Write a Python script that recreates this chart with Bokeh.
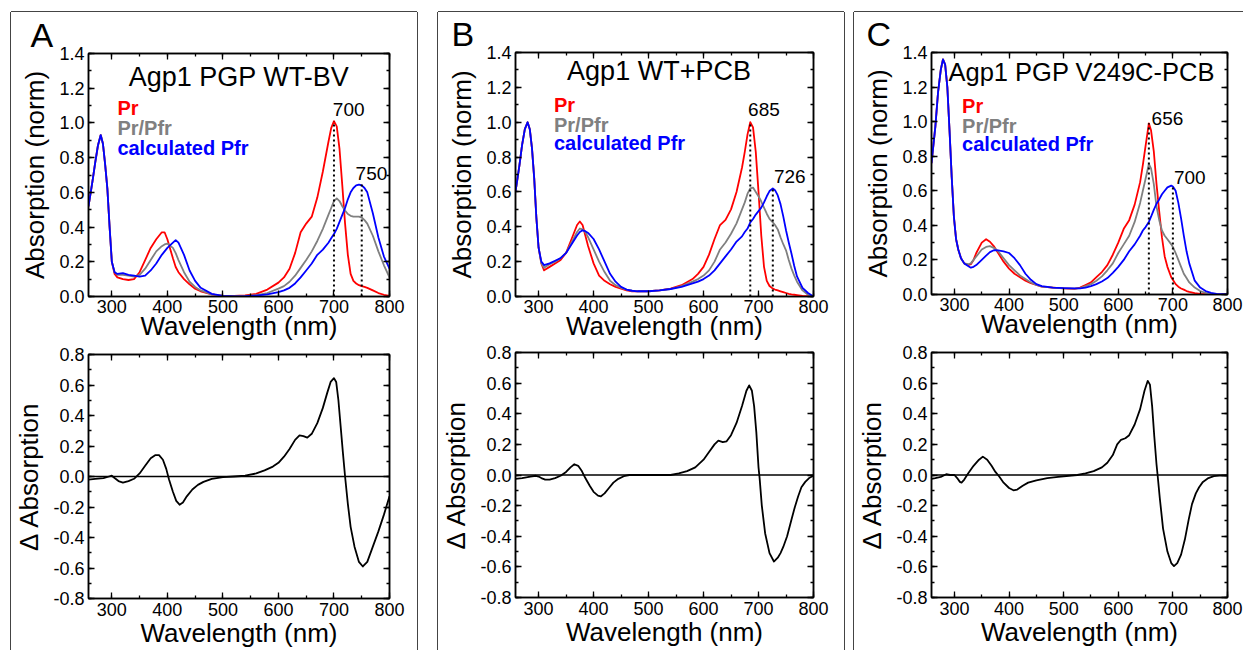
from bokeh.plotting import figure
from bokeh.models import (LinearAxis, FixedTicker, PrintfTickFormatter, Range1d,
                          Label, Span, Spacer, ColumnDataSource)
from bokeh.layouts import row, column
from bokeh.embed import file_html
from bokeh.resources import INLINE

# ----------------------------------------------------------------- data
X_TICKS = [300, 400, 500, 600, 700, 800]
X_MINOR = [300, 350, 400, 450, 500, 550, 600, 650, 700, 750, 800]
TOP_Y_TICKS = [0.0, 0.2, 0.4, 0.6, 0.8, 1.0, 1.2, 1.4]
TOP_Y_MINOR = [0.0, 0.1, 0.2, 0.3, 0.4, 0.5, 0.6, 0.7, 0.8, 0.9, 1.0, 1.1, 1.2, 1.3, 1.4]
DIFF_Y_TICKS = [-0.8, -0.6, -0.4, -0.2, 0.0, 0.2, 0.4, 0.6, 0.8]
DIFF_Y_MINOR = [-0.8, -0.7, -0.6, -0.5, -0.4, -0.3, -0.2, -0.1, 0.0,
                0.1, 0.2, 0.3, 0.4, 0.5, 0.6, 0.7, 0.8]

# Panel A : Agp1 PGP WT-BV
A_wl = [258, 265, 270, 275, 280, 284, 288, 292, 296, 300, 305, 310, 320, 330, 340,
        350, 360, 370, 380, 390, 395, 400, 410, 415, 420, 430, 440, 450, 460, 480,
        500, 520, 540, 560, 580, 600, 610, 620, 630, 640, 650, 660, 670, 680, 690,
        695, 700, 705, 710, 715, 720, 725, 730, 735, 740, 745, 750, 755, 760, 770,
        780, 790, 800]
A_pr = [0.52, 0.66, 0.77, 0.87, 0.93, 0.88, 0.76, 0.62, 0.40, 0.20, 0.13, 0.11, 0.10, 0.095, 0.10,
        0.14, 0.21, 0.28, 0.33, 0.37, 0.37, 0.33, 0.22, 0.17, 0.14, 0.10, 0.07, 0.045, 0.03, 0.012,
        0.004, 0.003, 0.006, 0.015, 0.04, 0.08, 0.11, 0.16, 0.25, 0.37, 0.42, 0.46, 0.57, 0.72, 0.89,
        0.97, 1.01, 0.98, 0.85, 0.64, 0.42, 0.24, 0.13, 0.09, 0.075, 0.065, 0.06, 0.055, 0.05, 0.035,
        0.02, 0.01, 0.003]
A_mix = [0.52, 0.66, 0.77, 0.87, 0.93, 0.88, 0.76, 0.62, 0.40, 0.20, 0.14, 0.125, 0.125, 0.12, 0.115,
         0.125, 0.16, 0.21, 0.26, 0.29, 0.30, 0.305, 0.28, 0.25, 0.21, 0.14, 0.085, 0.055, 0.035, 0.012,
         0.003, 0.002, 0.003, 0.008, 0.02, 0.045, 0.06, 0.085, 0.12, 0.165, 0.21, 0.26, 0.32, 0.39, 0.47,
         0.51, 0.55, 0.565, 0.55, 0.52, 0.495, 0.475, 0.465, 0.46, 0.46, 0.46, 0.455, 0.44, 0.42, 0.35,
         0.26, 0.18, 0.11]
A_pfr = [0.52, 0.66, 0.77, 0.87, 0.93, 0.88, 0.76, 0.62, 0.40, 0.20, 0.14, 0.13, 0.135, 0.125, 0.12,
         0.115, 0.12, 0.15, 0.19, 0.24, 0.26, 0.28, 0.31, 0.325, 0.31, 0.24, 0.15, 0.09, 0.05, 0.015,
         0.003, 0.001, 0.002, 0.005, 0.012, 0.025, 0.035, 0.05, 0.075, 0.11, 0.15, 0.19, 0.24, 0.27, 0.31,
         0.335, 0.36, 0.39, 0.43, 0.47, 0.51, 0.56, 0.60, 0.625, 0.64, 0.645, 0.64, 0.625, 0.60, 0.48,
         0.34, 0.23, 0.16]
A_dwl = [258, 270, 285, 295, 300, 305, 312, 320, 330, 340, 350, 360, 370, 378, 385,
         392, 398, 403, 410, 416, 422, 428, 435, 445, 455, 465, 480, 500, 520, 540,
         560, 575, 590, 600, 610, 620, 630, 638, 645, 652, 660, 670, 680, 688, 694,
         700, 704, 708, 712, 716, 720, 725, 730, 737, 745, 752, 760, 770, 780, 790, 800]
A_diff = [-0.02, -0.015, -0.01, 0.0, 0.005, -0.01, -0.03, -0.04, -0.03, -0.015, 0.02, 0.07, 0.12, 0.14, 0.14,
          0.11, 0.05, -0.02, -0.10, -0.16, -0.185, -0.17, -0.13, -0.085, -0.055, -0.035, -0.015, -0.004, 0.0, 0.005,
          0.02, 0.04, 0.065, 0.09, 0.13, 0.18, 0.24, 0.27, 0.265, 0.255, 0.28, 0.35, 0.45, 0.55, 0.62,
          0.645, 0.62, 0.50, 0.33, 0.16, 0.0, -0.18, -0.33, -0.46, -0.56, -0.59, -0.56, -0.46, -0.36, -0.25, -0.13]
A_peaks = [700, 750]
A_peak_vals = [1.01, 0.645]

# Panel B : Agp1 WT+PCB
B_wl = [258, 265, 270, 275, 280, 284, 288, 292, 296, 300, 305, 310, 320, 330, 340,
        350, 360, 370, 375, 380, 385, 390, 400, 410, 420, 430, 440, 450, 460, 470,
        480, 500, 520, 540, 560, 580, 590, 600, 610, 620, 630, 640, 650, 660, 670,
        675, 680, 685, 690, 695, 700, 705, 710, 715, 720, 726, 730, 735, 740, 745,
        750, 755, 760, 765, 770, 780, 790, 800]
B_pr = [0.60, 0.75, 0.87, 0.96, 1.0, 0.96, 0.85, 0.68, 0.45, 0.28, 0.19, 0.15, 0.17, 0.19, 0.21,
        0.25, 0.33, 0.41, 0.43, 0.41, 0.35, 0.29, 0.19, 0.12, 0.09, 0.07, 0.055, 0.045, 0.035, 0.03,
        0.03, 0.03, 0.035, 0.045, 0.065, 0.10, 0.13, 0.17, 0.24, 0.33, 0.41, 0.44, 0.50, 0.60, 0.74,
        0.83, 0.93, 1.0, 0.97, 0.83, 0.60, 0.35, 0.17, 0.09, 0.06, 0.045, 0.04, 0.035, 0.03, 0.025,
        0.02, 0.015, 0.012, 0.01, 0.008, 0.004, 0.002, 0.0]
B_mix = [0.60, 0.75, 0.87, 0.96, 1.0, 0.96, 0.85, 0.68, 0.45, 0.28, 0.19, 0.165, 0.185, 0.20, 0.22,
         0.25, 0.31, 0.37, 0.39, 0.385, 0.37, 0.34, 0.27, 0.20, 0.14, 0.09, 0.065, 0.05, 0.04, 0.033,
         0.03, 0.03, 0.035, 0.043, 0.06, 0.085, 0.10, 0.12, 0.15, 0.20, 0.27, 0.31, 0.36, 0.42, 0.50,
         0.54, 0.59, 0.62, 0.625, 0.60, 0.575, 0.545, 0.51, 0.475, 0.445, 0.425, 0.41, 0.385, 0.34, 0.30,
         0.265, 0.21, 0.16, 0.12, 0.085, 0.035, 0.01, 0.0]
B_pfr = [0.60, 0.75, 0.87, 0.96, 1.0, 0.96, 0.85, 0.68, 0.45, 0.28, 0.20, 0.18, 0.19, 0.205, 0.22,
         0.25, 0.30, 0.35, 0.37, 0.38, 0.375, 0.365, 0.33, 0.27, 0.20, 0.13, 0.085, 0.055, 0.04, 0.033,
         0.03, 0.03, 0.035, 0.043, 0.055, 0.075, 0.085, 0.10, 0.12, 0.15, 0.19, 0.23, 0.27, 0.315, 0.345,
         0.37, 0.39, 0.425, 0.445, 0.47, 0.49, 0.51, 0.54, 0.575, 0.605, 0.62, 0.61, 0.58, 0.53, 0.46,
         0.38, 0.31, 0.245, 0.175, 0.115, 0.05, 0.02, 0.0]
B_dwl = [258, 270, 285, 295, 300, 305, 312, 320, 330, 340, 350, 358, 365, 372, 378,
         385, 393, 400, 408, 413, 420, 428, 436, 445, 455, 465, 500, 540, 555, 570,
         585, 600, 610, 620, 627, 635, 642, 650, 660, 670, 678, 683, 688, 692, 696,
         700, 702, 706, 712, 720, 728, 735, 740, 745, 752, 760, 766, 772, 778, 785, 792, 800]
B_diff = [-0.025, -0.02, -0.01, -0.005, -0.01, -0.02, -0.03, -0.03, -0.02, -0.005, 0.02, 0.05, 0.07, 0.06, 0.03,
          -0.02, -0.07, -0.11, -0.135, -0.14, -0.12, -0.085, -0.05, -0.025, -0.008, 0.0, 0.0, 0.0, 0.01, 0.025,
          0.05, 0.10, 0.15, 0.20, 0.225, 0.215, 0.22, 0.26, 0.34, 0.45, 0.55, 0.585, 0.55, 0.45, 0.28,
          0.05, -0.02, -0.20, -0.38, -0.51, -0.565, -0.54, -0.51, -0.47, -0.40, -0.29, -0.21, -0.14, -0.08, -0.045, -0.02, -0.005]
B_peaks = [685, 726]
B_peak_vals = [1.0, 0.62]

# Panel C : Agp1 PGP V249C-PCB
C_wl = [258, 265, 270, 275, 279, 283, 287, 291, 295, 299, 303, 307, 312, 318,
        325, 330, 335, 340, 350, 358, 365, 372, 380, 390, 400, 410, 420, 430, 440,
        450, 460, 480, 500, 520, 530, 540, 550, 560, 570, 580, 590, 600, 610, 620,
        630, 640, 645, 650, 656, 660, 665, 670, 675, 680, 685, 690, 697, 700, 705,
        710, 715, 720, 725, 730, 740, 750, 760, 770, 780, 800]
C_pr = [0.76, 0.97, 1.17, 1.30, 1.36, 1.33, 1.20, 0.95, 0.68, 0.45, 0.32, 0.26, 0.21, 0.18,
        0.17, 0.175, 0.20, 0.24, 0.30, 0.32, 0.305, 0.28, 0.24, 0.19, 0.15, 0.12, 0.10, 0.08, 0.065,
        0.055, 0.045, 0.04, 0.035, 0.033, 0.04, 0.055, 0.07, 0.10, 0.13, 0.17, 0.23, 0.30, 0.38, 0.43,
        0.52, 0.65, 0.75, 0.86, 0.99, 0.95, 0.83, 0.64, 0.48, 0.33, 0.22, 0.16, 0.10, 0.085, 0.06,
        0.045, 0.035, 0.028, 0.02, 0.015, 0.008, 0.004, 0.002, 0.001, 0.0, 0.0]
C_mix = [0.76, 0.97, 1.17, 1.30, 1.36, 1.33, 1.20, 0.95, 0.68, 0.45, 0.32, 0.26, 0.21, 0.18,
         0.175, 0.18, 0.20, 0.22, 0.26, 0.275, 0.28, 0.27, 0.25, 0.21, 0.17, 0.14, 0.11, 0.09, 0.07,
         0.055, 0.045, 0.04, 0.036, 0.034, 0.037, 0.048, 0.06, 0.08, 0.105, 0.14, 0.18, 0.24, 0.29, 0.34,
         0.42, 0.53, 0.60, 0.67, 0.755, 0.73, 0.64, 0.51, 0.43, 0.37, 0.34, 0.32, 0.29, 0.275, 0.24,
         0.20, 0.16, 0.12, 0.095, 0.07, 0.04, 0.02, 0.01, 0.005, 0.002, 0.0]
C_pfr = [0.76, 0.97, 1.17, 1.30, 1.36, 1.33, 1.20, 0.95, 0.68, 0.45, 0.32, 0.26, 0.21, 0.18,
         0.165, 0.155, 0.16, 0.17, 0.20, 0.225, 0.245, 0.256, 0.255, 0.25, 0.24, 0.21, 0.17, 0.12, 0.085,
         0.06, 0.048, 0.04, 0.037, 0.035, 0.035, 0.04, 0.048, 0.06, 0.075, 0.095, 0.125, 0.16, 0.20, 0.25,
         0.29, 0.34, 0.37, 0.39, 0.42, 0.45, 0.49, 0.525, 0.55, 0.58, 0.60, 0.62, 0.63, 0.625, 0.60,
         0.53, 0.44, 0.34, 0.25, 0.18, 0.08, 0.04, 0.02, 0.01, 0.004, 0.0]
C_dwl = [258, 265, 275, 285, 292, 300, 305, 310, 313, 318, 325, 335, 345, 352, 360,
         368, 375, 382, 390, 400, 408, 415, 425, 435, 450, 470, 490, 510, 525, 540,
         555, 570, 580, 590, 598, 605, 613, 620, 630, 640, 648, 654, 658, 662, 666,
         670, 672, 676, 682, 690, 697, 702, 708, 715, 722, 729, 735, 742, 748, 755,
         765, 775, 785, 800]
C_diff = [-0.025, -0.02, -0.012, 0.005, 0.0, 0.0, -0.02, -0.045, -0.05, -0.03, 0.01, 0.06, 0.10, 0.12, 0.10,
          0.06, 0.02, -0.01, -0.05, -0.085, -0.10, -0.095, -0.07, -0.05, -0.035, -0.02, -0.012, -0.005, 0.0, 0.01,
          0.025, 0.05, 0.08, 0.13, 0.20, 0.23, 0.24, 0.26, 0.33, 0.43, 0.55, 0.615, 0.59, 0.45, 0.25,
          0.07, 0.0, -0.15, -0.35, -0.50, -0.575, -0.595, -0.575, -0.52, -0.42, -0.29, -0.19, -0.12, -0.08, -0.045,
          -0.02, -0.008, -0.004, -0.004]
C_peaks = [656, 700]
C_peak_vals = [0.99, 0.63]

TITLES = ["Agp1 PGP WT-BV", "Agp1 WT+PCB", "Agp1 PGP V249C-PCB"]
LETTERS = ["A", "B", "C"]
LEGEND = ["Pr", "Pr/Pfr", "calculated Pfr"]

# ----------------------------------------------------------------- style
FONT = "Liberation Sans"
RED, GRAY, BLUE = "#ff0000", "#808080", "#0000ff"
X_RANGE = (258, 800)


def style_axes(p, y_ticks, y_minor, ylab, tick_standoff, label_standoff):
    xt = FixedTicker(ticks=X_TICKS, minor_ticks=X_MINOR)
    yt = FixedTicker(ticks=y_ticks, minor_ticks=y_minor)
    for side in ("above", "right"):
        ax = LinearAxis(ticker=xt if side == "above" else yt,
                        major_label_text_color=None, major_label_standoff=0)
        p.add_layout(ax, side)
    bx, ly = p.below[0], p.left[0]
    bx.ticker = xt
    ly.ticker = yt
    ly.formatter = PrintfTickFormatter(format="%.1f")
    bx.axis_label = "Wavelength (nm)"
    ly.axis_label = ylab
    for ax in p.axis:
        ax.axis_line_color = "black"
        ax.axis_line_width = 1.5
        ax.major_tick_in = 6
        ax.major_tick_out = 0
        ax.minor_tick_in = 3
        ax.minor_tick_out = 0
        ax.major_tick_line_color = "black"
        ax.minor_tick_line_color = "black"
        ax.major_tick_line_width = 1.3
        ax.minor_tick_line_width = 1.3
    for ax in (bx, ly):
        ax.major_label_text_font = FONT
        ax.major_label_text_font_size = "18px"
        ax.major_label_text_color = "black"
        ax.axis_label_text_font = FONT
        ax.axis_label_text_font_size = "26px"
        ax.axis_label_text_font_style = "normal"
        ax.axis_label_text_color = "black"
    bx.major_label_standoff = tick_standoff
    bx.axis_label_standoff = label_standoff
    ly.major_label_standoff = 4
    ly.axis_label_standoff = 6
    p.xgrid.visible = False
    p.ygrid.visible = False
    p.outline_line_color = "black"
    p.outline_line_width = 1.5
    p.outline_line_alpha = 1.0


def make_fig(g, y_range):
    return figure(width=g["w"], height=g["h"], x_range=Range1d(*X_RANGE),
                  y_range=Range1d(*y_range), output_backend="svg", toolbar_location=None,
                  min_border_left=g["l"], min_border_right=g["r"],
                  min_border_top=g["t"], min_border_bottom=g["b"],
                  background_fill_color="white", border_fill_color="white")


def add_label(p, x, y, text, size, color="black", bold=False, align="left"):
    p.add_layout(Label(x=x, y=y, text=text, text_font=FONT, text_font_size=size,
                       text_color=color, text_font_style="bold" if bold else "normal",
                       text_align=align, text_baseline="middle"))


def make_top(g, wl, pr, mix, pfr, peaks, peak_vals, title, letter, pos):
    p = make_fig(g, (0, 1.4))
    # panel letter as the figure title, pulled left of the frame
    p.title.text = letter
    p.title.align = "left"
    p.title.offset = pos["letter_dx"]
    p.title.standoff = 0
    p.title.text_font = FONT
    p.title.text_font_size = "34px"
    p.title.text_font_style = "normal"
    p.title.text_color = "black"
    style_axes(p, TOP_Y_TICKS, TOP_Y_MINOR, "Absorption (norm)", 3, -5)
    src = ColumnDataSource(dict(wl=wl, pr=pr, mix=mix, pfr=pfr))
    p.line("wl", "pr", source=src, line_color=RED, line_width=1.8, line_join="round")
    p.line("wl", "mix", source=src, line_color=GRAY, line_width=1.8, line_join="round")
    p.line("wl", "pfr", source=src, line_color=BLUE, line_width=1.8, line_join="round")
    p.segment(x0=peaks, y0=[0] * len(peaks), x1=peaks, y1=peak_vals,
              line_color="black", line_width=2, line_dash="2 3")
    add_label(p, pos["title"][0], pos["title"][1], title, pos["tsize"], align="center")
    lx, ys = pos["legend"]
    for txt, col, ly in zip(LEGEND, [RED, GRAY, BLUE], ys):
        add_label(p, lx, ly, txt, "20px", color=col, bold=True)
    for (px, py), pk in zip(pos["peaks"], peaks):
        add_label(p, px, py, str(pk), "19px")
    return p


def make_bot(g, dwl, diff):
    p = make_fig(g, (-0.8, 0.8))
    style_axes(p, DIFF_Y_TICKS, DIFF_Y_MINOR, "\u0394 Absorption", 4, -1)
    p.add_layout(Span(location=0, dimension="width", line_color="black", line_width=1.5))
    p.line(dwl, diff, line_color="black", line_width=1.8, line_join="round")
    return p


GEO = [
    (dict(w=406, h=331, l=77, r=25, t=41, b=47), dict(w=406, h=307, l=76, r=28, t=11, b=52)),
    (dict(w=406, h=331, l=73, r=31, t=39, b=47), dict(w=406, h=307, l=75, r=28, t=9, b=53)),
    (dict(w=389, h=331, l=72, r=16, t=40, b=49), dict(w=389, h=307, l=74, r=14, t=9, b=53)),
]
# label anchors (data units, vertical centre of the text)
POS = [
    dict(title=(529, 1.267), tsize="27px", legend=(310, [1.086, 0.971, 0.858]),
         peaks=[(698, 1.080), (739, 0.706)], letter_dx=-58),
    dict(title=(519, 1.291), tsize="27px", legend=(328, [1.10, 0.986, 0.883]),
         peaks=[(681, 1.074), (728, 0.689)], letter_dx=-64),
    dict(title=(533, 1.287), tsize="25.5px", legend=(314, [1.093, 0.977, 0.868]),
         peaks=[(661, 1.018), (702, 0.677)], letter_dx=-65),
]
DATA = [
    (A_wl, A_pr, A_mix, A_pfr, A_peaks, A_peak_vals, A_dwl, A_diff),
    (B_wl, B_pr, B_mix, B_pfr, B_peaks, B_peak_vals, B_dwl, B_diff),
    (C_wl, C_pr, C_mix, C_pfr, C_peaks, C_peak_vals, C_dwl, C_diff),
]
SHADOWS = [
    "-1px 0 0 0 #444, 1px 0 0 0 #444, 0 -1px 0 0 #444",
    "-1px 0 0 0 #444, 1px 0 0 0 #444, 0 -1px 0 0 #444",
    "-1px 0 0 0 #444, 0 -1px 0 0 #444",
]

panels = []
for i in range(3):
    wl, pr, mix, pfr, pk, pkv, dwl, diff = DATA[i]
    gt, gb = GEO[i]
    top = make_top(gt, wl, pr, mix, pfr, pk, pkv, TITLES[i], LETTERS[i], POS[i])
    bot = make_bot(gb, dwl, diff)
    inner = column(top, bot, styles={"box-shadow": SHADOWS[i]})
    panels.append(column(Spacer(width=gt["w"], height=12), inner))

p = row(Spacer(width=11, height=650), panels[0], Spacer(width=21, height=650), panels[1],
        Spacer(width=10, height=650), panels[2])

open("out.html", "w").write(file_html(p, INLINE))
